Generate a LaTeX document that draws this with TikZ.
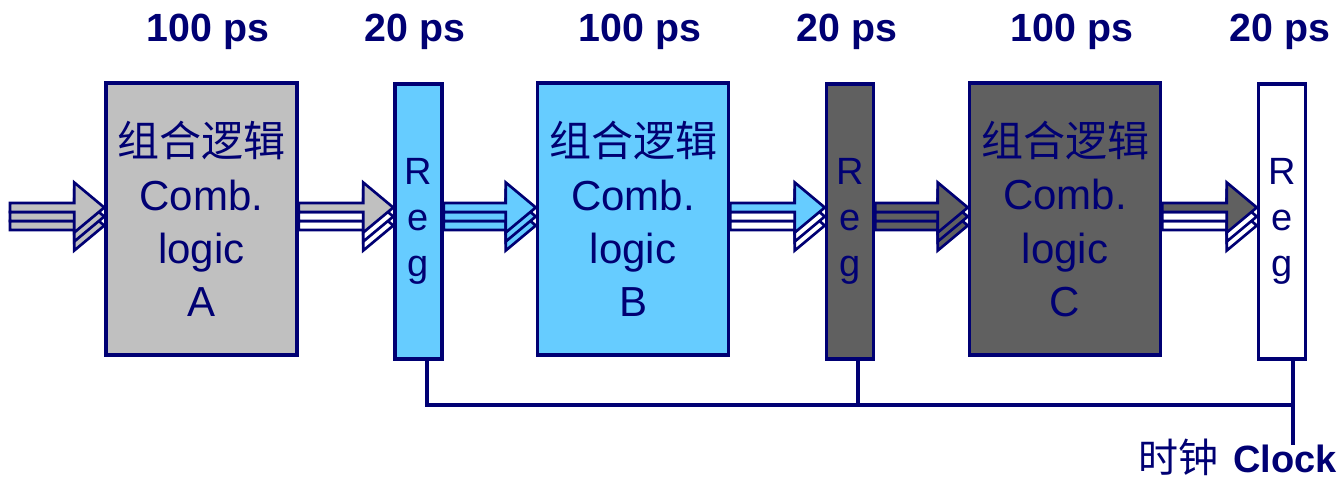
\documentclass[tikz,border=0pt]{standalone}
\usepackage{fontspec}
\setmainfont{Liberation Sans}
\newfontfamily\cjk{Noto Sans CJK SC}
\usetikzlibrary{calc}
\definecolor{navy}{RGB}{0,0,115}
\definecolor{lgray}{RGB}{192,192,192}
\definecolor{lblue}{RGB}{102,204,255}
\definecolor{dgray}{RGB}{96,96,96}
\tikzset{
  comb/.style={draw=navy, line width=2.6pt, minimum width=143.25pt, minimum height=204pt,
    inner sep=0pt, align=center, text=navy, font=\fontsize{31.5pt}{40pt}\selectfont},
  regbox/.style={draw=navy, line width=2.6pt, minimum width=35.25pt, minimum height=206pt,
    inner sep=0pt, align=center, text=navy, font=\fontsize{28.5pt}{34.5pt}\selectfont},
  delay/.style={text=navy, anchor=base, font=\fontsize{29.5pt}{34pt}\selectfont\bfseries},
  arrowline/.style={draw=navy, line width=2pt, line join=miter},
  wire/.style={draw=navy, line width=2.4pt}
}
\newcommand\triarrow[4]{%
  \foreach \dy/\col in {18/#4, 9/#4, 0/#3} {
    \filldraw[arrowline, fill=\col]
      ($(#1)+(0,-4.5+\dy)$) -- ($(#2)+(-30,-4.5+\dy)$) -- ($(#2)+(-30,-25+\dy)$)
      -- ($(#2)+(0,\dy)$) -- ($(#2)+(-30,25+\dy)$) -- ($(#2)+(-30,4.5+\dy)$)
      -- ($(#1)+(0,4.5+\dy)$) -- cycle;
  }%
}
\begin{document}
\begin{tikzpicture}[x=0.75pt,y=-0.75pt]
\useasboundingbox (0,0) rectangle (1341,479);
% boxes
\node[comb, fill=lgray] (A) at (201.5,219) {{\cjk 组合逻辑}\\Comb.\\logic\\A};
\node[regbox, fill=lblue] (R1) at (418.5,221.5) {R\\e\\g};
\node[comb, fill=lblue] (B) at (633,219) {{\cjk 组合逻辑}\\Comb.\\logic\\B};
\node[regbox, fill=dgray] (R2) at (850,221.5) {R\\e\\g};
\node[comb, fill=dgray] (C) at (1065,219) {{\cjk 组合逻辑}\\Comb.\\logic\\C};
\node[regbox, fill=white] (R3) at (1282,221.5) {R\\e\\g};
% delay labels
\node[delay] (dA) at (208,41) {100 ps};
\node[delay] (d1) at (415,41) {20 ps};
\node[delay] (dB) at (640,41) {100 ps};
\node[delay] (d2) at (847,41) {20 ps};
\node[delay] (dC) at (1072,41) {100 ps};
\node[delay] (d3) at (1280,41) {20 ps};
% arrows
\coordinate (ay) at (0,207.5);
\coordinate (in) at (10,207.5);
\coordinate (s1) at (A.east |- ay);  \coordinate (t0) at (A.west |- ay);
\coordinate (t1) at (R1.west |- ay); \coordinate (s2) at (R1.east |- ay);
\coordinate (t2) at (B.west |- ay);  \coordinate (s3) at (B.east |- ay);
\coordinate (t3) at (R2.west |- ay); \coordinate (s4) at (R2.east |- ay);
\coordinate (t4) at (C.west |- ay);  \coordinate (s5) at (C.east |- ay);
\coordinate (t5) at (R3.west |- ay);
\triarrow{in}{t0}{lgray}{lgray}
\triarrow{s1}{t1}{lgray}{white}
\triarrow{s2}{t2}{lblue}{lblue}
\triarrow{s3}{t3}{lblue}{white}
\triarrow{s4}{t4}{dgray}{dgray}
\triarrow{s5}{t5}{dgray}{white}
% clock
\coordinate (c1) at (427,405);
\coordinate (c2) at (858,405);
\coordinate (c3) at (1293,405);
\coordinate (cend) at (1293,445);
\draw[wire] (R1.south -| c1) -- (c1) -- (c3);
\draw[wire] (R2.south -| c2) -- (c2);
\draw[wire] (R3.south -| c3) -- (cend);
\node[anchor=base east, text=navy, inner sep=0pt] (clk) at (1337,472)
  {{\cjk\fontsize{30pt}{34pt}\selectfont 时钟}\hspace{11pt}{\fontsize{28.5pt}{34pt}\selectfont\bfseries Clock}};
\end{tikzpicture}
\end{document}
